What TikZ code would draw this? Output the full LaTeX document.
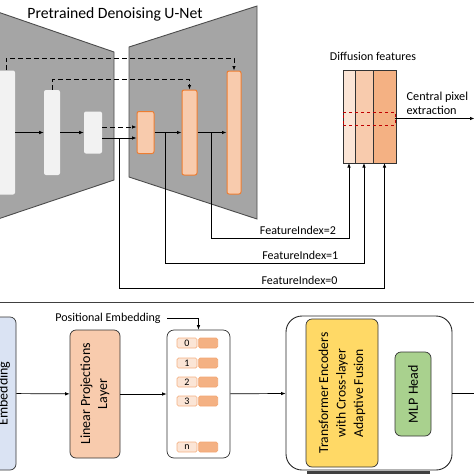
\documentclass[tikz,border=0pt]{standalone}
\usepackage{fontspec}
\setmainfont{Carlito}
\usetikzlibrary{arrows.meta, positioning}

\definecolor{unetgray}{HTML}{A5A5A5}
\definecolor{encfill}{HTML}{F2F2F2}
\definecolor{ulight}{HTML}{FBE5D6}
\definecolor{upeach}{HTML}{F8CBAD}
\definecolor{utan}{HTML}{F4B183}
\definecolor{uorange}{HTML}{ED7D31}
\definecolor{embblue}{HTML}{DAE3F3}
\definecolor{tfyellow}{HTML}{FFD966}
\definecolor{mlpgreen}{HTML}{A9D18E}
\definecolor{pickred}{HTML}{C00000}

\begin{document}
\begin{tikzpicture}[x=1pt, y=-1pt, line width=0.7pt, >={Latex[length=4.5pt, width=3.5pt]},
  trap/.style={draw=black!70, fill=unetgray, line width=0.9pt},
  enc/.style={fill=encfill, rounded corners=2pt, inner sep=0pt},
  dec/.style={draw=uorange, fill=upeach, line width=1pt, rounded corners=2pt, inner sep=0pt},
  skip/.style={->, dash pattern=on 5pt off 3pt},
  col/.style={draw=black!80, inner sep=0pt, outer sep=0pt, minimum height=93pt},
  lbl/.style={font=\fontsize{12}{14}\selectfont},
  box/.style={draw=black!80, rounded corners=6pt, rotate=90, align=center,
    font=\fontsize{14}{17}\selectfont},
  idx/.style={draw=utan, fill=ulight, rounded corners=1.5pt, minimum width=20pt,
    minimum height=10pt, inner sep=0pt, font=\fontsize{10}{10}\selectfont},
  val/.style={draw=utan!80!uorange, fill=utan, rounded corners=1.5pt, minimum width=19pt,
    minimum height=10pt, inner sep=0pt}]

  \clip (0,0) rectangle (474,474);

  % U-Net part
  \node[font=\fontsize{15.7}{18}\selectfont] (title) at (115,14) {Pretrained Denoising U-Net};
  \draw[trap] (-5,11) -- (114,52) -- (114,180) -- (-5,220) -- cycle;
  \draw[trap] (129,47) -- (257,6) -- (257,219) -- (129,177) -- cycle;

  \node[enc, minimum width=18pt, minimum height=124pt] (e1) at (6,132.5) {};
  \node[enc, minimum width=16pt, minimum height=85pt] (e2) at (52,132.5) {};
  \node[enc, minimum width=18pt, minimum height=42pt] (e3) at (93,132.5) {};
  \node[dec, minimum width=17pt, minimum height=42pt] (d1) at (145.5,132.5) {};
  \node[dec, minimum width=15pt, minimum height=85pt] (d2) at (189.5,132.5) {};
  \node[dec, minimum width=14pt, minimum height=123pt] (d3) at (234,132.5) {};

  \draw[->] (e1) -- (e2);
  \draw[->] (e2) -- (e3);
  \draw[skip] ([yshift=5.5pt]e3.east) -- ([yshift=5.5pt]d1.west);
  \draw[->] ([yshift=-5.5pt]e3.east) -- ([yshift=-5.5pt]d1.west);
  \draw[->] (d1) -- (d2);
  \draw[->] (d2) -- (d3);
  \draw[skip] (e1.north) -- ++(0,-12) -| (d3.north);
  \draw[skip] (e2.north) -- ++(0,-10) -| (d2.north);

  % diffusion features
  \node[lbl] (dftitle) at (373,56) {Diffusion features};
  \node[col, fill=ulight, minimum width=12pt] (f1) at (349,116.5) {};
  \node[col, fill=upeach, minimum width=18pt, right=0pt of f1] (f2) {};
  \node[col, fill=utan, minimum width=23pt, right=0pt of f2] (f3) {};
  \node[draw=pickred, dashed, line width=0.8pt, minimum width=52pt, minimum height=13pt,
    inner sep=0pt] (px) at (369,118.5) {};
  \coordinate (out1) at (474.5,118.5);
  \draw[->] (px) -- (out1);
  \node[anchor=west, align=left, font=\fontsize{12.2}{14.5}\selectfont] (cpe) at (403,103.5)
    {Central pixel\\extraction};

  \coordinate (t0) at (119,138);
  \coordinate (t1) at (165,132.5);
  \coordinate (t2) at (211,132.5);
  \draw[->] (t2) |- (f1.south |- 0,238) node[lbl, above, pos=0.815] {FeatureIndex=2} -- (f1.south);
  \draw[->] (t1) |- (f2.south |- 0,263) node[lbl, above, pos=0.84] {FeatureIndex=1} -- (f2.south);
  \draw[->] (t0) |- (f3.south |- 0,288) node[lbl, above, pos=0.84] {FeatureIndex=0} -- (f3.south);

  \draw[black!75, line width=0.9pt] (-5,302) -- (480,302);

  % transformer part
  \node[box, fill=embblue, minimum width=153pt, minimum height=24pt] (emb) at (4,393.5) {Embedding};
  \node[box, fill=upeach, minimum width=128pt, minimum height=50pt] (lin) at (95,394)
    {Linear Projections\\Layer};
  \node[draw=black!80, rounded corners=7pt, minimum width=63pt, minimum height=128pt] (tok)
    at (198.5,394) {};
  \node[lbl] (pe) at (108,318) {Positional Embedding};
  \draw[->] ([xshift=3pt]pe.east) -| (tok.north);
  \foreach \i/\y in {0/343, 1/363, 2/382, 3/401, n/447} {
    \node[idx] (i\i) at (187,\y) {\i};
    \node[val, right=1pt of i\i] (v\i) {};
  }
  \draw[->] (emb) -- (lin);
  \draw[->] (lin) -- (tok);

  \node[draw=black!85, line width=0.9pt, rounded corners=16pt, minimum width=166pt,
    minimum height=154pt] (big) at (369,393) {};
  \draw[->] (tok) -- (big);
  \node[box, fill=tfyellow, minimum width=148pt, minimum height=72pt,
    font=\fontsize{13.6}{17.5}\selectfont] (tf) at (342,393)
    {Transformer Encoders\\with Cross-layer\\Adaptive Fusion};
  \node[box, fill=mlpgreen, minimum width=84pt, minimum height=36pt] (mlp) at (413,394) {MLP Head};
  \coordinate (out2) at (478,393);
  \draw (big) -- (out2);
  \fill[black!75] (307,471) rectangle (430,480);
\end{tikzpicture}
\end{document}
